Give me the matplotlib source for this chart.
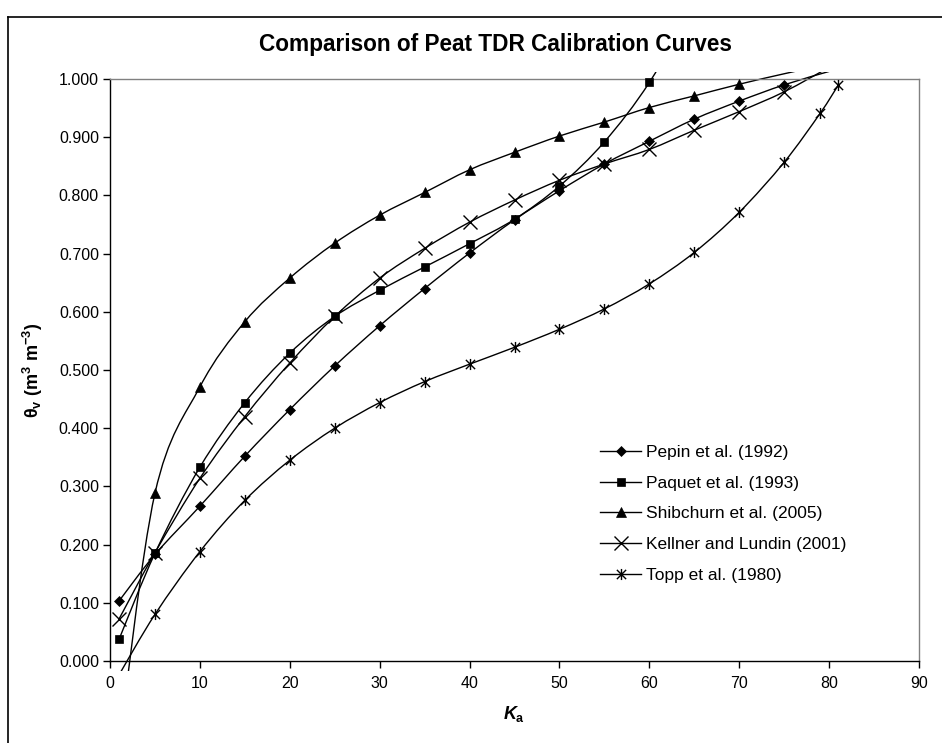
import numpy as np
import matplotlib
matplotlib.use("Agg")
import matplotlib.pyplot as plt
from matplotlib.path import Path
from matplotlib.patches import PathPatch
from matplotlib.lines import Line2D
from matplotlib.transforms import Bbox, TransformedBbox

plt.rcParams['font.family'] = ['Liberation Sans', 'DejaVu Sans']
plt.rcParams['mathtext.fontset'] = 'custom'
plt.rcParams['mathtext.rm'] = 'Liberation Sans'
plt.rcParams['mathtext.bf'] = 'Liberation Sans:bold'
plt.rcParams['mathtext.it'] = 'Liberation Sans:italic:bold'

# ---------------- data ----------------
ka_pepin = [1, 5, 10, 15, 20, 25, 30, 35, 40, 45, 50, 55, 60, 65, 70, 75, 80]
theta_pepin = [0.103, 0.183, 0.266, 0.352, 0.432, 0.507, 0.576, 0.640, 0.701,
               0.758, 0.808, 0.854, 0.893, 0.931, 0.962, 0.990, 1.013]

ka_paquet = [1, 5, 10, 15, 20, 25, 30, 35, 40, 45, 50, 55, 60, 65]
theta_paquet = [0.037, 0.185, 0.333, 0.444, 0.529, 0.592, 0.637, 0.677, 0.717,
                0.759, 0.816, 0.892, 0.994, 1.130]

ka_shib = [1, 5, 10, 15, 20, 25, 30, 35, 40, 45, 50, 55, 60, 65, 70, 75, 80]
theta_shib = [-0.144, 0.288, 0.471, 0.583, 0.658, 0.718, 0.766, 0.805, 0.844,
              0.874, 0.902, 0.926, 0.951, 0.971, 0.991, 1.009, 1.026]

ka_kellner = [1, 5, 10, 15, 20, 25, 30, 35, 40, 45, 50, 55, 60, 65, 70, 75, 80]
theta_kellner = [0.072, 0.186, 0.314, 0.420, 0.512, 0.592, 0.658, 0.709, 0.754,
                 0.792, 0.826, 0.854, 0.879, 0.912, 0.944, 0.978, 1.020]

ka_topp = [1, 5, 10, 15, 20, 25, 30, 35, 40, 45, 50, 55, 60, 65, 70, 75, 79, 81]
theta_topp = [-0.024, 0.080, 0.188, 0.276, 0.345, 0.400, 0.444, 0.480, 0.510,
              0.539, 0.570, 0.605, 0.648, 0.702, 0.771, 0.857, 0.941, 0.989]

labels = ["Pepin et al. (1992)", "Paquet et al. (1993)", "Shibchurn et al. (2005)",
          "Kellner and Lundin (2001)", "Topp et al. (1980)"]

x_ticks = [0, 10, 20, 30, 40, 50, 60, 70, 80, 90]
y_ticks = [0.0, 0.1, 0.2, 0.3, 0.4, 0.5, 0.6, 0.7, 0.8, 0.9, 1.0]

# ---------------- figure ----------------
W, H = 942, 743
fig = plt.figure(figsize=(W / 100, H / 100), dpi=100)
fig.patch.set_facecolor('white')

L, R, T, B = 110, 919, 79, 661
ax = fig.add_axes([L / W, 1 - B / H, (R - L) / W, (B - T) / H])
ax.set_xlim(0, 90)
ax.set_ylim(0, 1.0)

star = Path([(-1, -1), (1, 1), (-1, 1), (1, -1), (0, -1.2), (0, 1.2)],
            [Path.MOVETO, Path.LINETO, Path.MOVETO, Path.LINETO, Path.MOVETO, Path.LINETO])

styles = [
    dict(marker='D', markersize=5.6, mew=0.5),
    dict(marker='s', markersize=6.0, mew=0.5),
    dict(marker='^', markersize=7.2, mew=0.5),
    dict(marker='x', markersize=10.0, mew=1.0),
    dict(marker=star, markersize=8.0, mew=1.0),
]

series = [(ka_pepin, theta_pepin), (ka_paquet, theta_paquet), (ka_shib, theta_shib),
          (ka_kellner, theta_kellner), (ka_topp, theta_topp)]


def smooth_path(x, y):
    pts = np.column_stack([np.asarray(x, float), np.asarray(y, float)])
    n = len(pts)
    verts = [pts[0]]
    codes = [Path.MOVETO]
    for i in range(n - 1):
        p0 = pts[i - 1] if i > 0 else pts[i]
        p1 = pts[i]
        p2 = pts[i + 1]
        p3 = pts[i + 2] if i + 2 < n else pts[i + 1]
        c1 = p1 + (p2 - p0) / 6.0
        c2 = p2 - (p3 - p1) / 6.0
        verts += [c1, c2, p2]
        codes += [Path.CURVE4] * 3
    return Path(verts, codes)


clip_bbox = TransformedBbox(Bbox.from_extents(0, -0.017, 90, 1.012), ax.transData)

for (xs, ys), st in zip(series, styles):
    patch = PathPatch(smooth_path(xs, ys), facecolor='none', edgecolor='black',
                      lw=1.0, transform=ax.transData)
    ax.add_artist(patch)
    patch.set_clip_path(None)
    patch.set_clip_box(clip_bbox)
    ya = np.asarray(ys, float)
    ym = np.where((ya >= 0) & (ya <= 1.0), ya, np.nan)
    ax.plot(xs, ym, linestyle='none', color='black', mfc='black', mec='black',
            clip_on=False, zorder=3, **st)

ax.set_xlim(0, 90)
ax.set_ylim(0, 1.0)
ax.set_xticks(x_ticks)
ax.set_yticks(y_ticks)
ax.set_yticklabels([f"{v:.3f}" for v in y_ticks])
ax.tick_params(axis='both', direction='out', length=5, width=1.0, labelsize=11.5,
               colors='black', pad=3)
ax.tick_params(axis='x', pad=6)
for s in ['left', 'bottom']:
    ax.spines[s].set_color('black')
    ax.spines[s].set_linewidth(1.0)
for s in ['top', 'right']:
    ax.spines[s].set_color('#808080')
    ax.spines[s].set_linewidth(1.0)

ax.set_xlabel(r'$K_\mathbf{a}$', fontsize=13, labelpad=9)
ax.set_ylabel(r'θ$_\mathbf{v}$ (m$^\mathbf{3}$ m$^\mathbf{-3}$)', fontsize=13,
              fontweight='bold', labelpad=10)

handles = [Line2D([0], [0], color='black', lw=1.0, mfc='black', mec='black', **st)
           for st in styles]
leg = ax.legend(handles, labels, loc='upper left',
                bbox_to_anchor=(591 / W, 1 - 436 / H), bbox_transform=fig.transFigure,
                frameon=False, fontsize=12.5, handlelength=2.4, handletextpad=0.25,
                labelspacing=0.9, borderpad=0)

fig.text(495 / W, 1 - 45 / H, "Comparison of Peat TDR Calibration Curves",
         ha='center', va='center', fontsize=16.3, fontweight='bold')

# chart-area border (left and top visible)
fig.add_artist(Line2D([7.5 / W, 7.5 / W], [0, 1 - 17 / H], color='black', lw=1.2,
                      transform=fig.transFigure))
fig.add_artist(Line2D([7.5 / W, 1], [1 - 17 / H, 1 - 17 / H], color='black', lw=1.2,
                      transform=fig.transFigure))

fig.savefig('out.png', dpi=100)
